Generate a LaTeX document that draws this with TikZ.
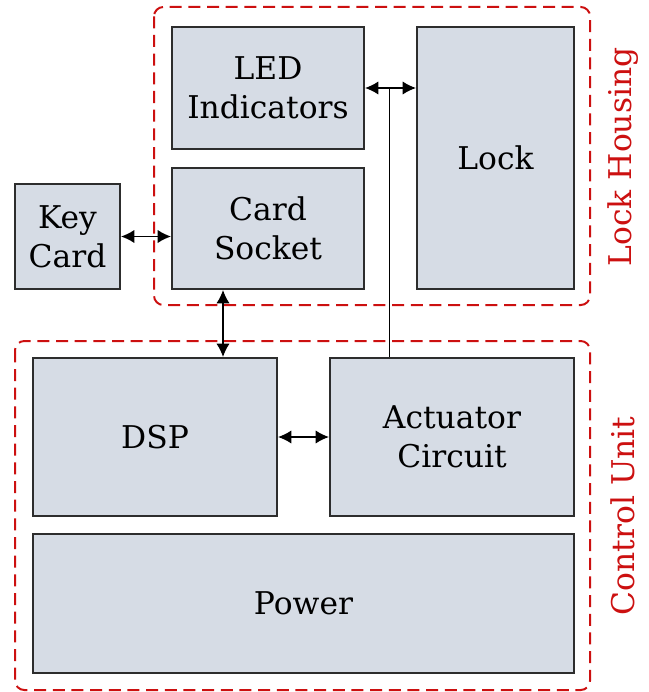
\documentclass[tikz,border=0pt]{standalone}
\usepackage{fontspec}
\setmainfont{DejaVu Serif}
\usetikzlibrary{positioning, arrows.meta}
\definecolor{boxfill}{RGB}{214,220,229}
\definecolor{boxedge}{RGB}{45,45,45}
\definecolor{zonered}{RGB}{204,16,16}

\begin{document}
\begin{tikzpicture}[x=0.75pt, y=-0.75pt,
    font=\fontsize{23.5}{29}\selectfont,
    block/.style={draw=boxedge, fill=boxfill, line width=1.5pt,
                  align=center, inner sep=0pt, anchor=north west},
    zone/.style={draw=zonered, line width=1.5pt, rounded corners=7pt,
                 dash pattern=on 9pt off 5pt},
    zonelabel/.style={text=zonered, rotate=90, inner sep=0pt},
    link/.style={{Latex[length=10pt, width=10pt]}-{Latex[length=10pt, width=10pt]},
                 line width=1.2pt, color=black},
    wire/.style={line width=1.2pt, color=black},
]
\useasboundingbox (0,0) rectangle (649,692);

% ─── Dashed groups ───────────────────────────────────────────────
\draw[zone] (154,7) rectangle (590,305);
\node[zonelabel] (housinglbl) at (623,157) {Lock Housing};

\draw[zone] (15,341) rectangle (590,690);
\node[zonelabel] (controllbl) at (623,516) {Control Unit};

% ─── Lock housing blocks ─────────────────────────────────────────
\node[block, minimum width=144pt, minimum height=91.5pt] (led) at (171,26) {LED\\Indicators};
\node[block, minimum width=144pt, minimum height=90.75pt] (sock) at (171,167) {Card\\Socket};
\node[block, minimum width=117.75pt, minimum height=196.5pt] (lock) at (416,26) {Lock};

% key card sits outside the housing
\node[block, minimum width=78.75pt, minimum height=78.75pt] (key) at (14,183) {Key\\Card};

% ─── Control unit blocks ─────────────────────────────────────────
\node[block, minimum width=183pt, minimum height=118.5pt] (dsp) at (32,357) {DSP};
\node[block, minimum width=183pt, minimum height=118.5pt] (act) at (329,357) {Actuator\\Circuit};
\node[block, minimum width=405.75pt, minimum height=104.25pt] (pwr) at (32,533) {Power};

% ─── Links ───────────────────────────────────────────────────────
\draw[link] (key.east) -- (key.east -| sock.west);
\coordinate (sockdsp) at (223,0);
\draw[link] (sockdsp |- sock.south) -- (sockdsp |- dsp.north);
\draw[link] (dsp) -- (act);

% LED <-> Lock, tapped by the actuator below
\coordinate (tap) at (389.5,88);
\draw[link] (tap -| led.east) -- (tap -| lock.west);
\draw[wire] (tap) -- (tap |- act.north);

\end{tikzpicture}
\end{document}
